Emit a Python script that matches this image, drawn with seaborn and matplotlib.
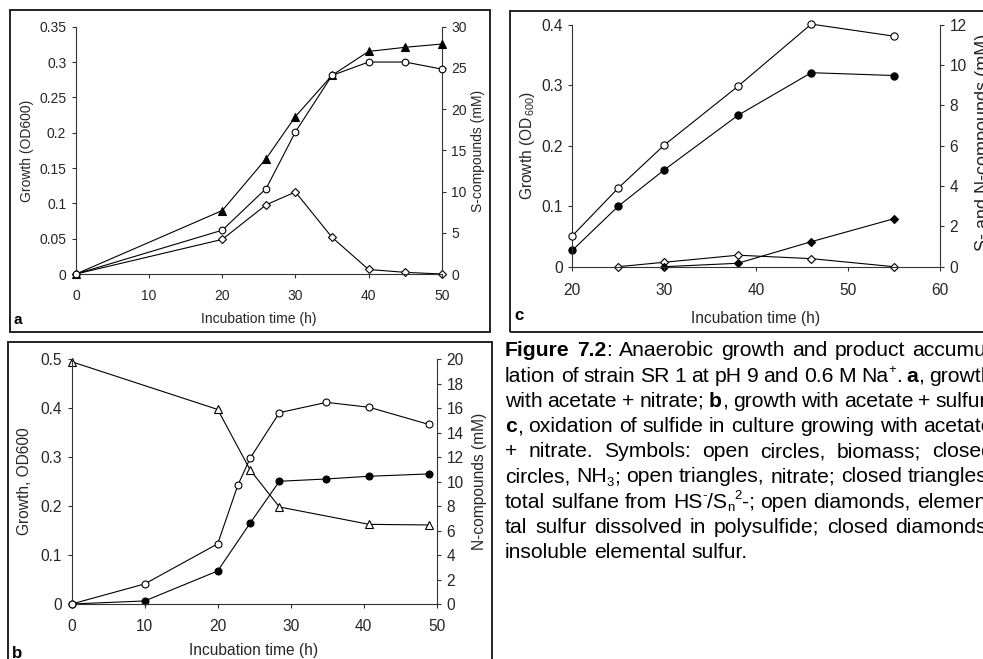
import re
import matplotlib
matplotlib.use("Agg")
import matplotlib.pyplot as plt
from matplotlib.patches import Rectangle
from matplotlib.ticker import FuncFormatter, MultipleLocator
import seaborn as sns

# ---- panel a: acetate + nitrate culture, sulfur species ----
a_time = [0, 20, 26, 30, 35, 40, 45, 50]
a_biomass = [0, 0.062, 0.121, 0.201, 0.281, 0.300, 0.300, 0.290]      # OD600
a_sulfane = [0, 7.7, 14.0, 19.1, 24.1, 27.0, 27.5, 27.9]              # mM
a_s0_dissolved = [0, 4.2, 8.4, 9.95, 4.45, 0.55, 0.2, 0.0]            # mM

# ---- panel b: nitrogen species ----
b_time_bio = [0, 10, 20, 22.75, 24.45, 28.45, 34.9, 40.75, 48.9]
b_biomass = [0, 0.041, 0.123, 0.2425, 0.298, 0.391, 0.412, 0.402, 0.367]
b_time_nh3 = [0, 10, 20, 24.45, 28.45, 34.9, 40.75, 48.9]
b_nh3 = [0, 0.25, 2.70, 6.62, 10.03, 10.22, 10.44, 10.63]
b_time_no3 = [0, 20, 24.45, 28.45, 40.75, 48.9]
b_nitrate = [19.8, 15.9, 10.95, 7.93, 6.51, 6.46]

# ---- panel c: sulfide oxidation ----
c_time = [20, 25, 30, 38, 46, 55]
c_biomass = [0.051, 0.130, 0.201, 0.298, 0.401, 0.381]
c_nh3 = [0.81, 3.0, 4.8, 7.5, 9.62, 9.48]
c_time_s0 = [25, 30, 38, 46, 55]
c_s0_dissolved = [0, 0.22, 0.57, 0.40, 0]
c_time_s0ins = [30, 38, 46, 55]
c_s0_insoluble = [0, 0.17, 1.24, 2.38]

# caption, one entry per printed line (all but the last are justified).
# **x** = bold, ^{x} = superscript, _{x} = subscript
caption_lines = [
    "**Figure** **7.2**: Anaerobic growth and product accumu-",
    "lation of strain SR 1 at pH 9 and 0.6 M Na^{+}. **a**, growth",
    "with acetate + nitrate; **b**, growth with acetate + sulfur;",
    "**c**, oxidation of sulfide in culture growing with acetate",
    "+ nitrate. Symbols: open circles, biomass; closed",
    "circles, NH_{3}; open triangles, nitrate; closed triangles,",
    "total sulfane from HS^{-}/S_{n}^{2}-; open diamonds, elemen-",
    "tal sulfur dissolved in polysulfide; closed diamonds,",
    "insoluble elemental sulfur.",
]

sns.set_style("ticks")
plt.rcParams["font.family"] = ["Liberation Sans", "DejaVu Sans"]
plt.rcParams["mathtext.fontset"] = "custom"
plt.rcParams["mathtext.rm"] = "Liberation Sans"
plt.rcParams["mathtext.it"] = "Liberation Sans:italic"
plt.rcParams["mathtext.bf"] = "Liberation Sans:bold"
plt.rcParams["text.color"] = "black"

W, H = 983, 659
fig = plt.figure(figsize=(W / 100, H / 100), dpi=100)
fig.patch.set_facecolor("white")


def fx(px):
    return px / W


def fy(py):
    return 1 - py / H


def make_axes(left, top, right, bottom):
    ax = fig.add_axes([fx(left), fy(bottom), (right - left) / W, (bottom - top) / H])
    ax2 = ax.twinx()
    return ax, ax2, (left, top, right, bottom)


def to_axes(box, px, py):
    left, top, right, bottom = box
    return (px - left) / (right - left), (bottom - py) / (bottom - top)


LW = 0.8
fmt = FuncFormatter(lambda v, p: f"{v:g}")


def series(ax, x, y, marker, filled, ms):
    sns.lineplot(x=x, y=y, ax=ax, color="black", linewidth=LW, marker=marker,
                 markersize=ms, markerfacecolor="black" if filled else "white",
                 markeredgecolor="black", markeredgewidth=LW, errorbar=None,
                 sort=False, clip_on=False, zorder=3)


def style_axes(ax, ax2, box, xlim, xstep, ylim, ystep, y2lim, y2step, fs, pads,
               xlabel, ylabel, y2label, label_pos, letter, letter_pos, y2fs=None):
    ax.set_xlim(*xlim)
    ax.set_ylim(*ylim)
    ax2.set_ylim(*y2lim)
    ax.xaxis.set_major_locator(MultipleLocator(xstep))
    ax.yaxis.set_major_locator(MultipleLocator(ystep))
    ax2.yaxis.set_major_locator(MultipleLocator(y2step))
    for a in (ax, ax2):
        a.yaxis.set_major_formatter(fmt)
        for s in a.spines.values():
            s.set_linewidth(LW)
            s.set_color("#333333")
        a.spines["top"].set_visible(False)
    ax.xaxis.set_major_formatter(fmt)
    ax.spines["right"].set_visible(False)
    ax2.spines["left"].set_visible(False)
    ax2.spines["bottom"].set_visible(False)
    ax.tick_params(axis="x", direction="out", length=3, width=LW, color="#333333",
                   labelsize=fs, pad=pads[0])
    ax.tick_params(axis="y", direction="out", length=3, width=LW, color="#333333",
                   labelsize=fs, pad=pads[1])
    ax2.tick_params(axis="y", direction="out", length=3, width=LW, color="#333333",
                    labelsize=fs, pad=pads[2])
    ax.set_xlabel(xlabel, fontsize=fs, va="center", ha="center")
    ax.xaxis.set_label_coords(*to_axes(box, *label_pos[0]))
    ax.set_ylabel(ylabel, fontsize=fs, va="center", ha="center")
    ax.yaxis.set_label_coords(*to_axes(box, *label_pos[1]))
    ax2.set_ylabel(y2label, fontsize=y2fs or fs, va="center", ha="center", rotation=90)
    ax2.yaxis.set_label_coords(*to_axes(box, *label_pos[2]))
    fig.text(fx(letter_pos[0]), fy(letter_pos[1]), letter, fontsize=fs + 1,
             fontweight="bold", ha="left", va="center")
    ax.set_facecolor("none")
    ax.set_zorder(ax2.get_zorder() + 1)


# ---------------- panel a ----------------
ax_a, ax_a2, box_a = make_axes(76, 26.7, 441.7, 274)
series(ax_a, a_time, a_biomass, "o", False, 4.8)
series(ax_a2, a_time, a_sulfane, "^", True, 5.3)
series(ax_a2, a_time, a_s0_dissolved, "D", False, 3.6)
style_axes(ax_a, ax_a2, box_a, (0, 50), 10, (0, 0.35), 0.05, (0, 30), 5, 10,
           (8, 4, 4), "Incubation time (h)", "Growth (OD600)", "S-compounds (mM)",
           [(258.5, 318.5), (27.3, 150.5), (478.3, 150.5)], "a", (13, 320))

# ---------------- panel c ----------------
ax_c, ax_c2, box_c = make_axes(572.3, 24.7, 940, 266.7)
series(ax_c, c_time, c_biomass, "o", False, 5.2)
series(ax_c2, c_time, c_nh3, "o", True, 5.2)
series(ax_c2, c_time_s0, c_s0_dissolved, "D", False, 3.6)
series(ax_c2, c_time_s0ins, c_s0_insoluble, "D", True, 3.6)
style_axes(ax_c, ax_c2, box_c, (20, 60), 10, (0, 0.4), 0.1, (0, 12), 2, 11.2,
           (9, 4, 4), "Incubation time (h)", r"Growth (OD$_{\,600}$)",
           "S- and N-compounds (mM)",
           [(756, 318.5), (527.3, 145.7), (984, 142.5)], "c", (514, 315), y2fs=13)

# ---------------- panel b ----------------
ax_b, ax_b2, box_b = make_axes(71.7, 359.3, 436.7, 604)
series(ax_b, b_time_bio, b_biomass, "o", False, 5.0)
series(ax_b2, b_time_nh3, b_nh3, "o", True, 5.0)
series(ax_b2, b_time_no3, b_nitrate, "^", False, 5.6)
style_axes(ax_b, ax_b2, box_b, (0, 50), 10, (0, 0.5), 0.1, (0, 20), 2, 11.2,
           (8, 4, 4), "Incubation time (h)", "Growth, OD600", "N-compounds (mM)",
           [(254, 650.7), (25, 481.6), (480, 481.6)], "b", (12, 653))

# ---------------- panel frames ----------------
for (l, t, r, b) in [(10, 10, 490, 331.7), (510, 11, 1000, 331.5), (8.3, 341.7, 491.7, 700)]:
    fig.add_artist(Rectangle((fx(l), fy(b)), (r - l) / W, (b - t) / H,
                             transform=fig.transFigure, fill=False, lw=1.4,
                             ec="#222222", zorder=0))

# ---------------- caption (justified column) ----------------
CAP_FS = 15.2
CAP_PX = CAP_FS * 100 / 72
CAP_LEFT, CAP_RIGHT = 505, 993
base0, step = 356.5, 25.2
TOKEN = re.compile(r"\*\*(.+?)\*\*|\^\{(.+?)\}|_\{(.+?)\}|([^*^_]+)")
renderer = fig.canvas.get_renderer()


def word_runs(word, yb_px):
    """Create the text pieces of one word; return them with their widths."""
    pieces = []
    for bold, sup, sub, plain in TOKEN.findall(word):
        if bold:
            txt, weight, shift, scale = bold, "bold", 0.0, 1.0
        elif sup:
            txt, weight, shift, scale = sup, "normal", 0.40, 0.62
        elif sub:
            txt, weight, shift, scale = sub, "normal", -0.17, 0.62
        else:
            txt, weight, shift, scale = plain, "normal", 0.0, 1.0
        t = fig.text(0, fy(yb_px - shift * CAP_PX), txt, fontsize=CAP_FS * scale,
                     fontweight=weight, ha="left", va="baseline")
        pieces.append((t, t.get_window_extent(renderer).width))
    return pieces


for i, line in enumerate(caption_lines):
    yb_px = base0 + i * step
    words = [word_runs(w, yb_px) for w in line.split(" ")]
    widths = [sum(w for _, w in pieces) for pieces in words]
    if i == len(caption_lines) - 1:
        gap = CAP_PX * 0.278
    else:
        gap = (CAP_RIGHT - CAP_LEFT - sum(widths)) / (len(words) - 1)
    x = CAP_LEFT
    for pieces, wsum in zip(words, widths):
        xr = x
        for t, w in pieces:
            t.set_x(fx(xr))
            xr += w
        x += wsum + gap

fig.savefig("out.png", dpi=100, facecolor="white")
